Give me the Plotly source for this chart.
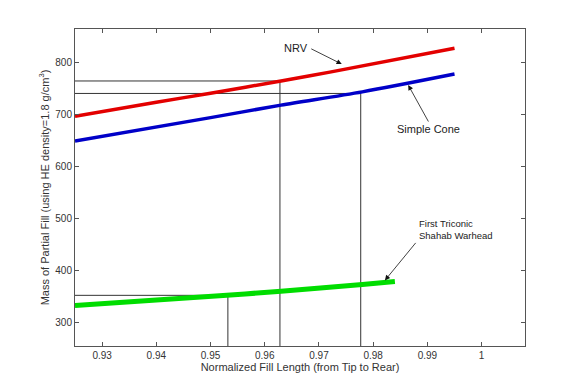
import plotly.graph_objects as go

# Data
nrv_x = [0.925, 0.94, 0.95, 0.963, 0.972, 0.995]
nrv_y = [697, 724, 741.5, 765, 782, 828]

cone_x = [0.925, 0.95, 0.963, 0.978, 0.995]
cone_y = [649.5, 694.5, 718.5, 744, 778.3]

tri_x = [0.925, 0.953, 0.963, 0.978, 0.984]
tri_y = [333, 352.5, 360.5, 373.5, 379]

# guide lines (fill fraction, mass)
guide_x = [0.9532, 0.9628, 0.9777]
guide_y = [352.5, 765, 741]

x_range = [0.925, 1.008]
y_range = [255, 865]
x_ticks = [0.93, 0.94, 0.95, 0.96, 0.97, 0.98, 0.99, 1]
x_ticklabels = ["0.93", "0.94", "0.95", "0.96", "0.97", "0.98", "0.99", "1"]
y_ticks = [300, 400, 500, 600, 700, 800]

FONT = "Liberation Sans, Arial, sans-serif"

fig = go.Figure()

# guide lines: horizontal from left axis, vertical from bottom axis
gx, gy = [], []
for xv, yv in zip(guide_x, guide_y):
    gx += [x_range[0], xv, xv, None]
    gy += [yv, yv, y_range[0], None]
fig.add_trace(go.Scatter(x=gx, y=gy, mode="lines",
                         line=dict(color="#333333", width=1),
                         hoverinfo="skip", showlegend=False))

fig.add_trace(go.Scatter(x=nrv_x, y=nrv_y, mode="lines",
                         line=dict(color="#e30000", width=3.5, shape="spline", smoothing=0.8),
                         showlegend=False))
fig.add_trace(go.Scatter(x=cone_x, y=cone_y, mode="lines",
                         line=dict(color="#0000c8", width=3.5, shape="spline", smoothing=0.8),
                         showlegend=False))
fig.add_trace(go.Scatter(x=tri_x, y=tri_y, mode="lines",
                         line=dict(color="#00dd00", width=5, shape="spline", smoothing=0.8),
                         showlegend=False))

afont = dict(family=FONT, size=11, color="#222222")
arrow = dict(showarrow=True, arrowhead=2, arrowsize=1.3, arrowwidth=0.8,
             arrowcolor="#111111", text="")

fig.add_annotation(x=0.9742, y=797.5, ax=-32, ay=-16, **arrow)
fig.add_annotation(x=0.98646, y=757.2, ax=21, ay=38, **arrow)
fig.add_annotation(x=0.98216, y=381.2, ax=32, ay=-39, **arrow)

fig.add_annotation(x=0.96583, y=828.2, text="NRV", showarrow=False, font=afont)
fig.add_annotation(x=0.99022, y=672.2, text="Simple Cone", showarrow=False, font=afont)
fig.add_annotation(x=0.98801, y=479.7, text="First Triconic<br>Shahab Warhead",
                   showarrow=False, font=dict(family=FONT, size=9.5, color="#222222"),
                   xanchor="left", align="left")

axis_common = dict(showgrid=False, zeroline=False, showline=True,
                   linecolor="#555555", linewidth=1, mirror="allticks",
                   ticks="inside", ticklen=4, tickcolor="#555555",
                   tickfont=dict(family=FONT, size=10, color="#333333"))

fig.update_xaxes(range=x_range, tickvals=x_ticks, ticktext=x_ticklabels,
                 title=dict(text="Normalized Fill Length (from Tip to Rear)",
                            font=dict(family=FONT, size=11, color="#333333"),
                            standoff=2),
                 **axis_common)
fig.update_yaxes(range=y_range, tickvals=y_ticks,
                 title=dict(text="Mass of Partial Fill (using HE density=1.8 g/cm<sup>3</sup>)",
                            font=dict(family=FONT, size=11, color="#333333"),
                            standoff=3),
                 **axis_common)

fig.update_layout(width=580, height=389,
                  margin=dict(l=67, r=63, t=21, b=51),
                  paper_bgcolor="white", plot_bgcolor="white",
                  font=dict(family=FONT))

fig.write_html("out.html")
